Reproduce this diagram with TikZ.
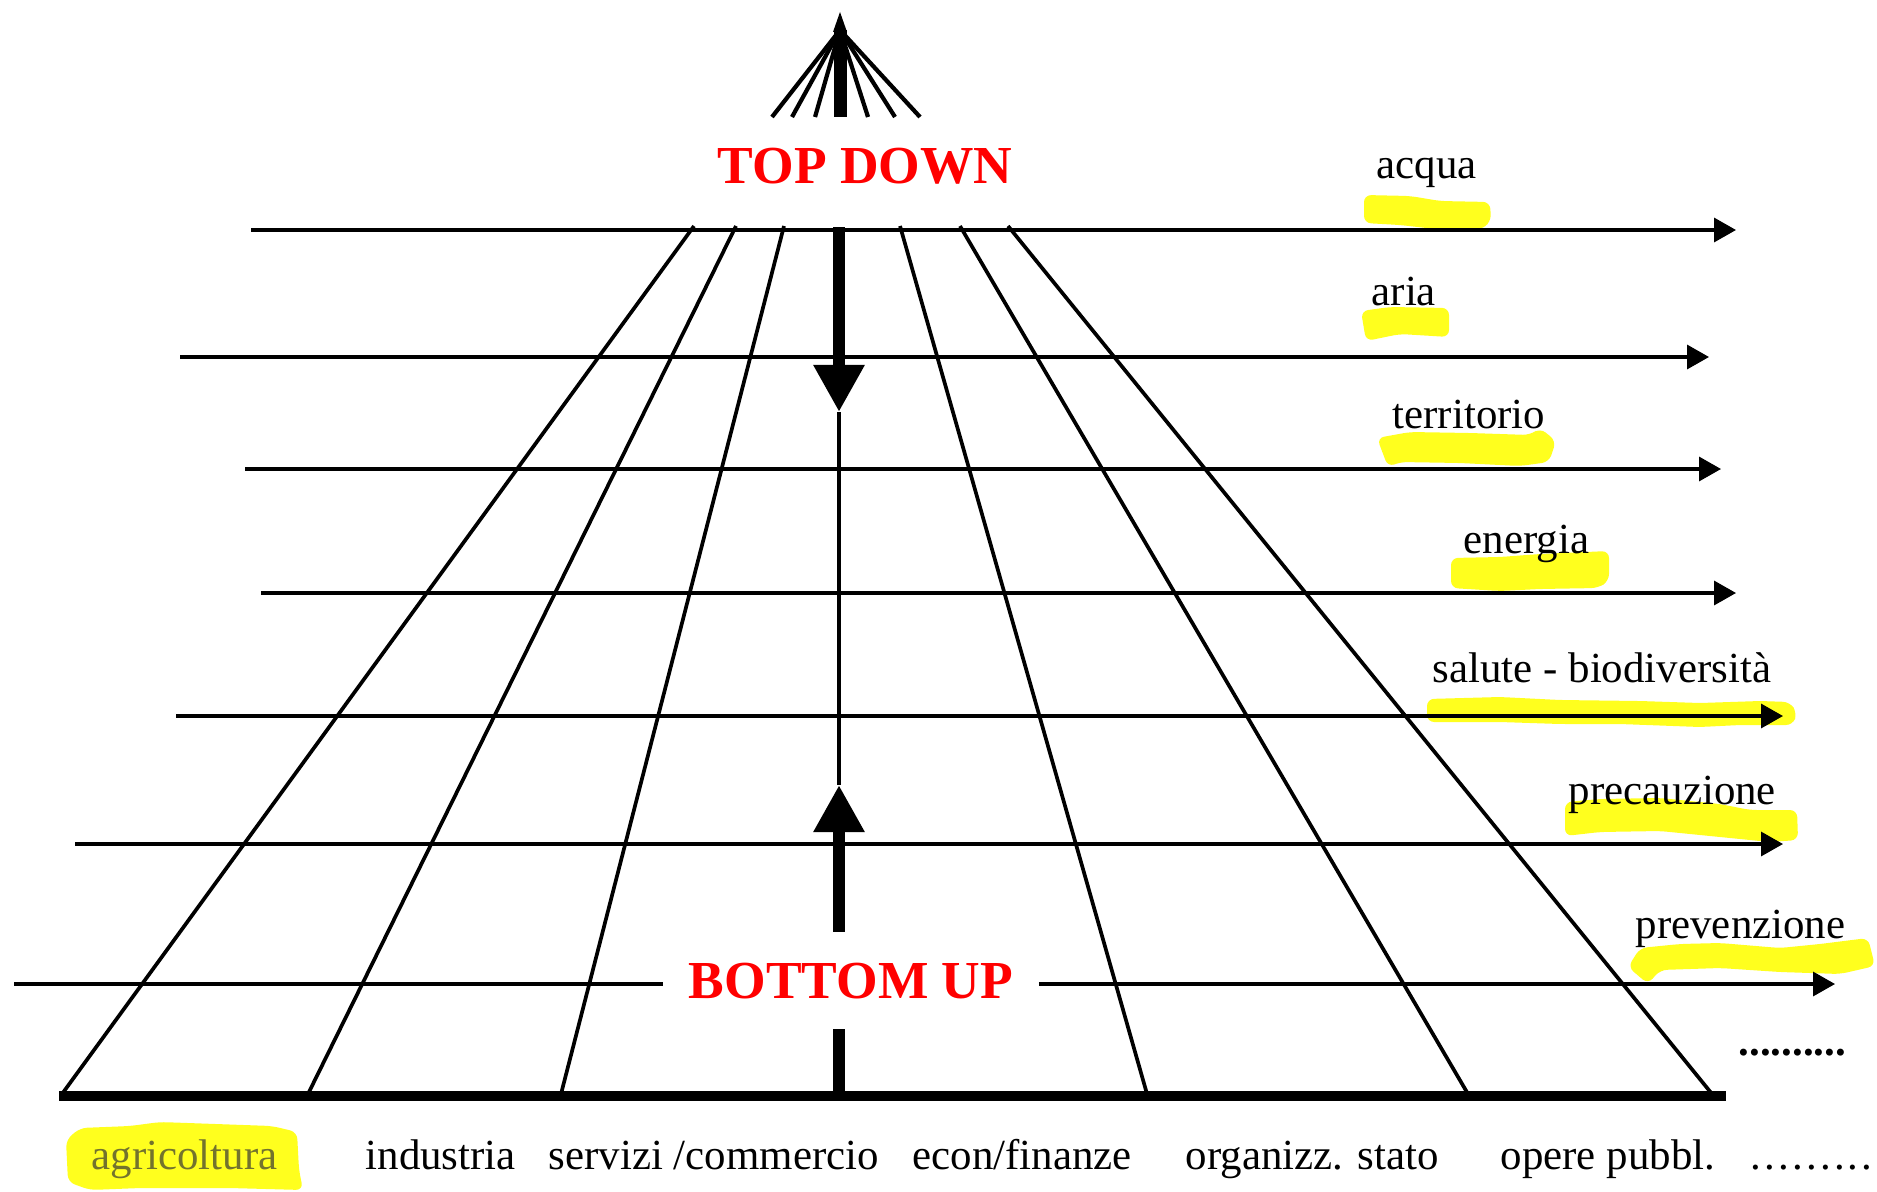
\documentclass[tikz,border=0pt]{standalone}
\usepackage{fontspec}
\setmainfont{Liberation Serif}
\usetikzlibrary{arrows.meta}
\definecolor{hilite}{RGB}{255,255,30}
\definecolor{dimtext}{RGB}{115,115,45}
\begin{document}
\begin{tikzpicture}[x=0.01cm,y=-0.01cm,line join=miter,
  thinline/.style={line width=0.95pt},
  hline/.style={line width=0.95pt,-{Triangle[length=0.22cm,width=0.24cm]}},
  shaft/.style={line width=0.12cm},
  bigtip/.style={-{Triangle[length=0.47cm,width=0.48cm]}},
  hl/.style={fill=hilite,rounded corners=2pt},
  lbl/.style={font=\fontsize{12.2}{14}\selectfont,inner sep=0pt,anchor=base west},
  slogan/.style={font=\fontsize{15.2}{18}\selectfont\bfseries,text=red,anchor=base}]
  \useasboundingbox (0,0) rectangle (1877,1191);
  % marker strokes under the labels
  \fill[hl] (1364,195) -- (1410,196) -- (1440,201) -- (1490,202) -- (1491,222)
    -- (1480,230) -- (1435,229) -- (1400,225) -- (1364,223) -- cycle;
  \fill[hl] (1361,311) -- (1390,307) -- (1449,308) -- (1449,337) -- (1400,334)
    -- (1366,341) -- cycle;
  \fill[hl] (1377,438) -- (1410,432) -- (1470,433) -- (1530,435) -- (1540,428)
    -- (1556,441) -- (1549,462) -- (1520,466) -- (1460,463) -- (1400,462)
    -- (1388,467) -- cycle;
  \fill[hl] (1451,558) -- (1500,557) -- (1540,554) -- (1609,551) -- (1609,581)
    -- (1598,588) -- (1540,589) -- (1500,591) -- (1451,588) -- cycle;
  \fill[hl] (1427,699) -- (1500,697) -- (1560,700) -- (1640,701) -- (1700,703)
    -- (1760,701) -- (1790,702) -- (1797,713) -- (1793,725) -- (1740,725)
    -- (1700,727) -- (1620,724) -- (1560,724) -- (1500,722) -- (1427,722) -- cycle;
  \fill[hl] (1565,802) -- (1600,799) -- (1660,798) -- (1720,804) -- (1750,810)
    -- (1797,810) -- (1798,840) -- (1770,842) -- (1720,837) -- (1660,831)
    -- (1600,832) -- (1565,836) -- cycle;
  \fill[hl] (1628,967) -- (1640,948) -- (1680,944) -- (1720,943) -- (1780,948)
    -- (1820,944) -- (1868,938) -- (1875,966) -- (1840,974) -- (1780,972)
    -- (1720,968) -- (1660,970) -- (1648,984) -- cycle;
  \fill[hl] (66,1140) -- (80,1128) -- (130,1126) -- (160,1122) -- (272,1126)
    -- (297,1132) -- (299,1170) -- (303,1190) -- (230,1188) -- (140,1188)
    -- (90,1190) -- (68,1182) -- cycle;

  % slogans
  \node[slogan] (td) at (865,183) {TOP DOWN};
  \node[slogan,inner xsep=0.25cm,inner ysep=0.3cm] (bu) at (851,998) {BOTTOM UP};

  % horizontal themes
  \foreach \i/\y/\xa/\xb/\lx/\ly/\txt in {
      1/230/251/1736/1376/179/acqua,
      2/357/180/1709/1371/305/aria,
      3/469/245/1721/1392/428/territorio,
      4/593/261/1736/1463/553/energia,
      5/716/176/1783/1432/682/{salute - biodiversità},
      6/844/75/1783/1568/804/precauzione} {
    \coordinate (p\i) at (\xa,\y);
    \coordinate (q\i) at (\xb,\y);
    \draw[hline] (p\i) -- (q\i);
    \node[lbl] (t\i) at (\lx,\ly) {\txt};
  }
  \coordinate (p7) at (14,984);
  \coordinate (q7) at (1835,984);
  \draw[thinline] (p7) -- (p7 -| bu.west);
  \draw[hline] (p7 -| bu.east) -- (q7);
  \node[lbl] (t7) at (1635,938) {prevenzione};
  \node[lbl,font=\fontsize{12.2}{14}\selectfont\bfseries] (t8) at (1738,1055) {..........};

  % perspective lines of the sectors
  \foreach \xt/\xb in {694/62,736/308,784/561,900/1147,960/1468,1008/1712}
    \draw[line width=1.05pt] (\xt,226) -- (\xb,1094);
  \draw[line width=0.1cm] (59,1096) -- (1726,1096);

  % fan at the top
  \coordinate (apex) at (840,30);
  \foreach \bx in {772,792,815,868,895,920}
    \draw[line width=1.2pt] (apex) -- (\bx,117);
  \draw[line width=0.13cm] (840,117) -- (apex);
  \fill (833,32) -- (840,12) -- (847,32) -- cycle;

  % vertical axis
  \coordinate (ax) at (839,0);
  \coordinate (topbar) at (839,227);
  \coordinate (downtip) at (839,412);
  \coordinate (uptip) at (839,785);
  \coordinate (bar) at (839,1092);
  \draw[shaft,bigtip] (topbar) -- (downtip);
  \draw[thinline] (downtip) -- (uptip);
  \draw[shaft,bigtip] (bu.north -| ax) -- (uptip);
  \draw[shaft] (bu.south -| ax) -- (bar);

  % sectors
  \node[lbl,text=dimtext] (s1) at (91,1169) {agricoltura};
  \node[lbl] (s2) at (365,1169) {industria};
  \node[lbl] (s3) at (548,1169) {servizi /commercio};
  \node[lbl] (s4) at (912,1169) {econ/finanze};
  \node[lbl] (s5) at (1185,1169) {organizz. stato};
  \node[lbl] (s6) at (1500,1169) {opere pubbl.};
  \node[lbl] (s7) at (1750,1169)
    {.\kern0.9pt.\kern0.9pt.\kern0.9pt.\kern0.9pt.\kern0.9pt.\kern0.9pt.\kern0.9pt.\kern0.9pt.};
\end{tikzpicture}
\end{document}
